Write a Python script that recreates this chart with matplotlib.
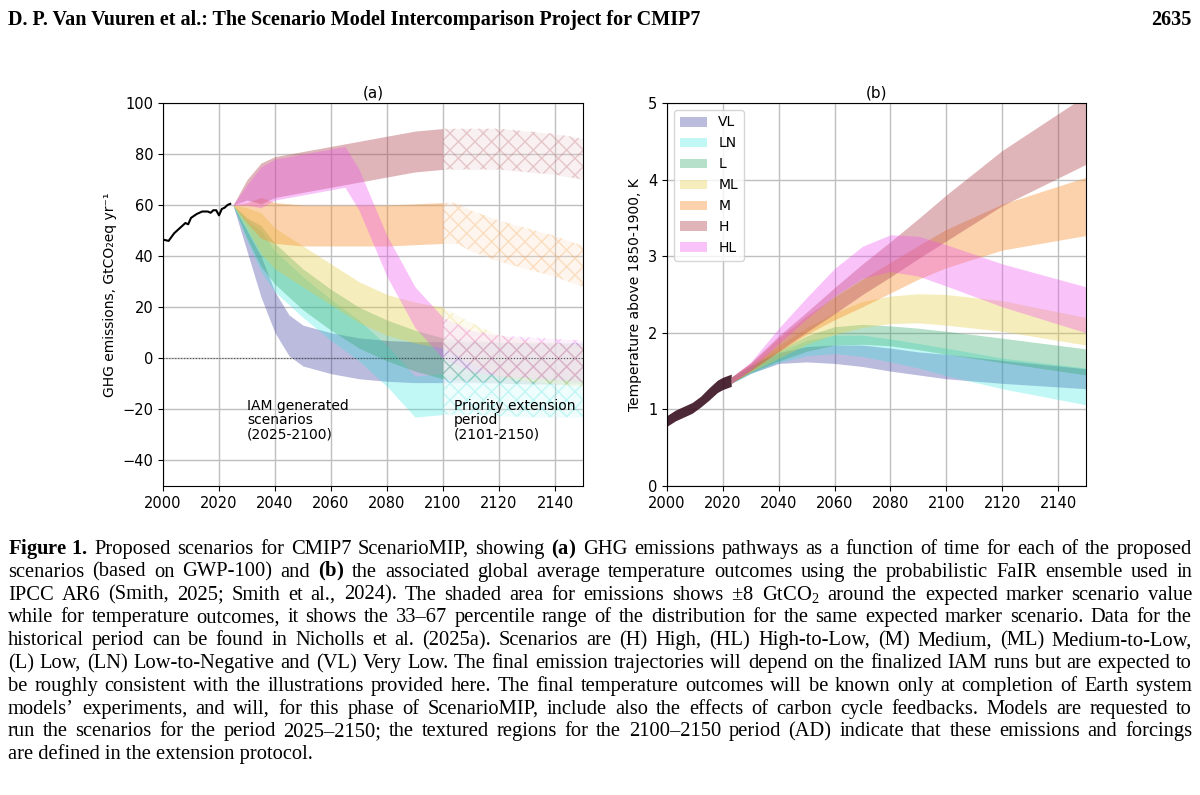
import numpy as np
import matplotlib
matplotlib.use("Agg")
import matplotlib.pyplot as plt

plt.rcParams['mathtext.fontset'] = 'custom'
plt.rcParams['mathtext.rm'] = 'Liberation Serif'
plt.rcParams['mathtext.bf'] = 'Liberation Serif:bold'
plt.rcParams['mathtext.it'] = 'Liberation Serif:italic'

# ---- data: emissions (marker centre values, band is +-8) ----
hist_years = [2000, 2002, 2004, 2006, 2008, 2009, 2010, 2012, 2014, 2016, 2017, 2018, 2019, 2020, 2021, 2022, 2023, 2024]
hist_emis = [46.5, 46, 49, 51, 53, 52.5, 55, 56.5, 57.5, 57.5, 57, 58, 58, 56, 58.5, 59, 60, 60.5]

scen = ['VL', 'LN', 'L', 'ML', 'M', 'H', 'HL']
colors = {'VL': '#3c3ca0', 'LN': '#33e6e0', 'L': '#2ea866', 'ML': '#e6cc40',
          'M': '#f5902e', 'H': '#b04850', 'HL': '#ee55ee'}

emis_years = {
    'VL': [2025, 2030, 2035, 2040, 2045, 2050, 2060, 2070, 2080, 2090, 2100, 2110, 2130, 2150],
    'LN': [2025, 2030, 2040, 2050, 2060, 2070, 2080, 2090, 2100, 2110, 2130, 2150],
    'L': [2025, 2030, 2040, 2050, 2060, 2070, 2080, 2090, 2100, 2110, 2130, 2150],
    'ML': [2025, 2030, 2040, 2050, 2060, 2070, 2080, 2090, 2100, 2110, 2120, 2130, 2150],
    'M': [2025, 2030, 2040, 2050, 2060, 2070, 2080, 2090, 2100, 2105, 2110, 2120, 2130, 2140, 2150],
    'H': [2025, 2030, 2040, 2050, 2060, 2070, 2080, 2090, 2100, 2110, 2120, 2130, 2140, 2150],
    'HL': [2025, 2030, 2040, 2050, 2060, 2065, 2070, 2080, 2090, 2100, 2110, 2120, 2150],
}
emis_vals = {
    'VL': [60, 46, 32, 18, 9, 5, 2, 0, -1, -1.5, -1.5, -1.5, -2, -2],
    'LN': [60, 50, 34, 24, 15, 7, -3, -15, -14, -14, -15, -15],
    'L': [60, 51, 37, 27, 19, 12, 7, 3, 0, -1, -2, -2],
    'ML': [60, 55, 43, 36, 29, 22, 17, 14, 12, 6, 1, -1, -3],
    'M': [60, 57, 53, 52, 52, 52, 52, 52.5, 53, 53, 50, 46, 43, 40, 36],
    'H': [60, 66, 71, 73, 75, 77, 79, 81, 82, 82, 82, 81, 80, 78],
    'HL': [60, 64, 70, 72, 74, 75, 66, 40, 20, 8, 3, 1, -1],
}
band_years = [2025, 2035, 2150]
band_half = [0, 8, 8]

# ---- data: temperature (centre and half-width of 33-67 range) ----
hist_t_years = [2000, 2003, 2006, 2009, 2012, 2015, 2018, 2020, 2023]
hist_t = [0.85, 0.92, 0.97, 1.02, 1.10, 1.20, 1.30, 1.34, 1.38]
hist_t_half = [0.07, 0.07, 0.07, 0.07, 0.07, 0.08, 0.08, 0.08, 0.08]

t_years = [2023, 2030, 2040, 2050, 2060, 2070, 2080, 2090, 2100, 2120, 2150]
t_mid = {
    'VL': [1.38, 1.52, 1.67, 1.72, 1.72, 1.70, 1.65, 1.60, 1.56, 1.49, 1.40],
    'LN': [1.38, 1.52, 1.68, 1.80, 1.85, 1.83, 1.77, 1.70, 1.62, 1.47, 1.30],
    'L': [1.38, 1.53, 1.70, 1.86, 1.96, 1.98, 1.96, 1.92, 1.87, 1.77, 1.62],
    'ML': [1.38, 1.54, 1.75, 1.96, 2.12, 2.24, 2.30, 2.32, 2.30, 2.22, 2.02],
    'M': [1.38, 1.55, 1.84, 2.10, 2.32, 2.52, 2.72, 2.92, 3.10, 3.38, 3.65],
    'H': [1.38, 1.56, 1.86, 2.14, 2.42, 2.70, 2.96, 3.23, 3.50, 4.02, 4.65],
    'HL': [1.38, 1.57, 1.96, 2.32, 2.66, 2.92, 3.04, 3.00, 2.88, 2.62, 2.30],
}
t_half = {
    'VL': [0.04, 0.05, 0.07, 0.10, 0.12, 0.14, 0.15, 0.15, 0.16, 0.15, 0.13],
    'LN': [0.04, 0.05, 0.07, 0.10, 0.12, 0.14, 0.15, 0.16, 0.18, 0.20, 0.24],
    'L': [0.04, 0.05, 0.07, 0.10, 0.12, 0.13, 0.13, 0.14, 0.15, 0.16, 0.17],
    'ML': [0.04, 0.05, 0.08, 0.11, 0.14, 0.17, 0.18, 0.19, 0.20, 0.20, 0.18],
    'M': [0.04, 0.05, 0.09, 0.12, 0.15, 0.18, 0.20, 0.22, 0.25, 0.30, 0.38],
    'H': [0.04, 0.05, 0.10, 0.13, 0.17, 0.20, 0.23, 0.26, 0.30, 0.36, 0.45],
    'HL': [0.04, 0.05, 0.10, 0.14, 0.18, 0.21, 0.24, 0.26, 0.27, 0.28, 0.30],
}
alphas = {'VL': 0.35, 'LN': 0.3, 'L': 0.35, 'ML': 0.35, 'M': 0.4, 'H': 0.4, 'HL': 0.35}

fig = plt.figure(figsize=(12, 7.95), dpi=100)
serif = 'Liberation Serif'

# header
fig.text(8 / 1200, 1 - 20 / 795, 'D. P. Van Vuuren et al.: The Scenario Model Intercomparison Project for CMIP7',
         family=serif, fontsize=14.5, fontweight='bold', va='center', ha='left')
fig.text(1192 / 1200, 1 - 20 / 795, '2635', family=serif, fontsize=14.5, fontweight='bold', va='center', ha='right')

# ---- panel a ----
ax1 = fig.add_axes([163 / 1200, 1 - 486 / 795, 420 / 1200, 383 / 795])
yr = np.arange(2025, 2151)
hw = np.interp(yr, band_years, band_half)
for s in scen:
    c = np.interp(yr, emis_years[s], emis_vals[s])
    m1 = yr <= 2100
    m2 = yr >= 2100
    ax1.fill_between(yr[m1], c[m1] - hw[m1], c[m1] + hw[m1], color=colors[s], alpha=alphas[s], lw=0)
    ax1.fill_between(yr[m2], c[m2] - 8, c[m2] + 8, facecolor=(1, 1, 1, 0), edgecolor=colors[s],
                     alpha=0.25, hatch='xx', lw=0)
    ax1.fill_between(yr[m2], c[m2] - 8, c[m2] + 8, color=colors[s], alpha=0.08, lw=0)
ax1.plot(hist_years, hist_emis, color='black', lw=1.5)
ax1.axhline(0, color='0.3', lw=0.8, ls=':')
ax1.set_xlim(2000, 2150)
ax1.set_ylim(-50, 100)
ax1.set_yticks(np.arange(-40, 101, 20))
ax1.set_xticks(np.arange(2000, 2141, 20))
ax1.grid(True, color='0.75', lw=1)
ax1.set_axisbelow(True)
ax1.tick_params(labelsize=10.5)
ax1.set_ylabel('GHG emissions, GtCO₂eq yr⁻¹', fontsize=10)
ax1.set_title('(a)', fontsize=11, pad=4)
ax1.text(2030, -16, 'IAM generated\nscenarios\n(2025-2100)', fontsize=10, va='top', linespacing=1.0)
ax1.text(2104, -16, 'Priority extension\nperiod\n(2101-2150)', fontsize=10, va='top', linespacing=1.0)

# ---- panel b ----
ax2 = fig.add_axes([667 / 1200, 1 - 486 / 795, 419 / 1200, 383 / 795])
ax2.fill_between(hist_t_years, np.array(hist_t) - np.array(hist_t_half),
                 np.array(hist_t) + np.array(hist_t_half), color='#3a1020', alpha=0.9, lw=0)
ty = np.arange(2023, 2151)
for s in scen:
    c = np.interp(ty, t_years, t_mid[s])
    h = np.interp(ty, t_years, t_half[s])
    ax2.fill_between(ty, c - h, c + h, color=colors[s], alpha=alphas[s], lw=0, label=s)
ax2.set_xlim(2000, 2150)
ax2.set_ylim(0, 5)
ax2.set_xticks(np.arange(2000, 2141, 20))
ax2.grid(True, color='0.75', lw=1)
ax2.set_axisbelow(True)
ax2.tick_params(labelsize=10.5)
ax2.set_ylabel('Temperature above 1850-1900, K', fontsize=10)
ax2.set_title('(b)', fontsize=11, pad=4)
ax2.legend(loc='upper left', fontsize=10, framealpha=0.8)

# caption, justified by spreading the words of each line
lines = [
    r'$\mathbf{Figure\ 1.}$ Proposed scenarios for CMIP7 ScenarioMIP, showing $\mathbf{(a)}$ GHG emissions pathways as a function of time for each of the proposed',
    r'scenarios (based on GWP-100) and $\mathbf{(b)}$ the associated global average temperature outcomes using the probabilistic FaIR ensemble used in',
    r'IPCC AR6 (Smith, 2025; Smith et al., 2024). The shaded area for emissions shows $\pm$8 GtCO$_2$ around the expected marker scenario value',
    'while for temperature outcomes, it shows the 33–67 percentile range of the distribution for the same expected marker scenario. Data for the',
    'historical period can be found in Nicholls et al. (2025a). Scenarios are (H) High, (HL) High-to-Low, (M) Medium, (ML) Medium-to-Low,',
    '(L) Low, (LN) Low-to-Negative and (VL) Very Low. The final emission trajectories will depend on the finalized IAM runs but are expected to',
    'be roughly consistent with the illustrations provided here. The final temperature outcomes will be known only at completion of Earth system',
    'models’ experiments, and will, for this phase of ScenarioMIP, include also the effects of carbon cycle feedbacks. Models are requested to',
    'run the scenarios for the period 2025–2150; the textured regions for the 2100–2150 period (AD) indicate that these emissions and forcings',
    'are defined in the extension protocol.',
]
cap_size = 14.8
renderer = fig.canvas.get_renderer()
x0, x1 = 8, 1192
for i, ln in enumerate(lines):
    y = 1 - (554 + i * 22.8) / 795
    if i == len(lines) - 1:
        fig.text(x0 / 1200, y, ln, family=serif, fontsize=cap_size, va='baseline', ha='left')
        continue
    merged = []
    for w in ln.split(' '):
        if merged and merged[-1].count('$') % 2 == 1:
            merged[-1] += ' ' + w
        else:
            merged.append(w)
    arts = [fig.text(0, y, w, family=serif, fontsize=cap_size, va='baseline', ha='left') for w in merged]
    widths = [a.get_window_extent(renderer).width for a in arts]
    gap = (x1 - x0 - sum(widths)) / (len(arts) - 1)
    x = x0
    for a, w in zip(arts, widths):
        a.set_x(x / 1200)
        x += w + gap

fig.savefig('out.png', dpi=100)
